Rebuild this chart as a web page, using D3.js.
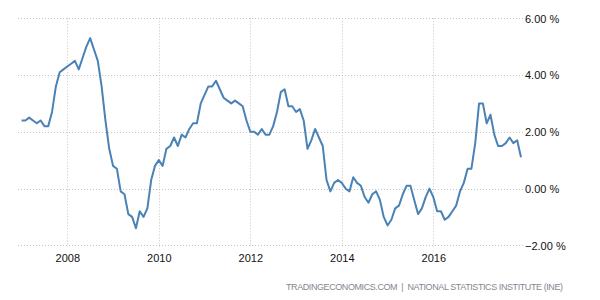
<!DOCTYPE html>
<html>
<head>
<meta charset="utf-8">
<script src="https://cdn.jsdelivr.net/npm/d3@7"></script>
<style>
  html, body { margin: 0; padding: 0; background: #fff; }
  svg { display: block; }
  text { font-family: "Liberation Sans", Arial, sans-serif; }
</style>
</head>
<body>
<svg id="chart" width="600" height="300"></svg>
<script>
// Monthly inflation rate (%), Jan 2007 .. Dec 2017
const startYear = 2007;
const values = [
  2.4, 2.4, 2.5, 2.4, 2.3, 2.4, 2.2, 2.2, 2.7, 3.6, 4.1, 4.2,   // 2007
  4.3, 4.4, 4.5, 4.2, 4.6, 5.0, 5.3, 4.9, 4.5, 3.6, 2.4, 1.4,   // 2008
  0.8, 0.7, -0.1, -0.2, -0.9, -1.0, -1.4, -0.8, -1.0, -0.7, 0.3, 0.8, // 2009
  1.0, 0.8, 1.4, 1.5, 1.8, 1.5, 1.9, 1.8, 2.1, 2.3, 2.3, 3.0,   // 2010
  3.3, 3.6, 3.6, 3.8, 3.5, 3.2, 3.1, 3.0, 3.1, 3.0, 2.9, 2.4,   // 2011
  2.0, 2.0, 1.9, 2.1, 1.9, 1.9, 2.2, 2.7, 3.4, 3.5, 2.9, 2.9,   // 2012
  2.7, 2.8, 2.4, 1.4, 1.7, 2.1, 1.8, 1.5, 0.3, -0.1, 0.2, 0.3,  // 2013
  0.2, 0.0, -0.1, 0.4, 0.2, 0.1, -0.3, -0.5, -0.2, -0.1, -0.4, -1.0, // 2014
  -1.3, -1.1, -0.7, -0.6, -0.2, 0.1, 0.1, -0.4, -0.9, -0.7, -0.3, 0.0, // 2015
  -0.3, -0.8, -0.8, -1.1, -1.0, -0.8, -0.6, -0.1, 0.2, 0.7, 0.7, 1.6, // 2016
  3.0, 3.0, 2.3, 2.6, 1.9, 1.5, 1.5, 1.6, 1.8, 1.6, 1.7, 1.1    // 2017
];
const xTickYears = [2008, 2010, 2012, 2014, 2016];
const yTickValues = [-2, 0, 2, 4, 6];
const sourceText = "TRADINGECONOMICS.COM  |  NATIONAL STATISTICS INSTITUTE (INE)";

const data = values.map((v, i) => ({ t: startYear + i / 12, v }));

const svg = d3.select("#chart");
const plot = { left: 18, right: 523, top: 18.3, bottom: 245.3 };

// x: year fraction -> px (2008 at 67.3, 45.75 px per year)
const x = d3.scaleLinear()
  .domain([2008 + (plot.left - 67.3) / 45.75, 2008 + (plot.right - 67.3) / 45.75])
  .range([plot.left, plot.right]);
const y = d3.scaleLinear().domain([-2, 6]).range([plot.bottom, plot.top]);

// horizontal grid
svg.append("g")
  .selectAll("line").data(yTickValues).join("line")
  .attr("x1", plot.left).attr("x2", plot.right)
  .attr("y1", d => Math.round(y(d)) + 0.5).attr("y2", d => Math.round(y(d)) + 0.5)
  .attr("stroke", "#c4c4c4").attr("stroke-width", 1).attr("stroke-dasharray", "1,2");

// vertical grid
svg.append("g")
  .selectAll("line").data(xTickYears).join("line")
  .attr("x1", d => Math.round(x(d)) + 0.5).attr("x2", d => Math.round(x(d)) + 0.5)
  .attr("y1", plot.top).attr("y2", plot.bottom + 1.5)
  .attr("stroke", "#c4c4c4").attr("stroke-width", 1).attr("stroke-dasharray", "1,2");

// x axis labels
const xAxis = d3.axisBottom(x).tickValues(xTickYears).tickFormat(d3.format("d")).tickSize(0).tickPadding(0);
const gx = svg.append("g").attr("transform", `translate(0,${plot.bottom})`).call(xAxis);
gx.select(".domain").remove();
gx.selectAll("text").attr("font-size", 11).attr("fill", "#111")
  .attr("font-family", "'Liberation Sans', Arial, sans-serif")
  .attr("dy", null).attr("y", 16.5);

// y axis labels (right)
const yAxis = d3.axisRight(y).tickValues(yTickValues).tickFormat(d => d3.format(".2f")(d) + " %").tickSize(0).tickPadding(0);
const gy = svg.append("g").attr("transform", `translate(525,0)`).call(yAxis);
gy.select(".domain").remove();
gy.selectAll("text").attr("font-size", 11).attr("fill", "#111")
  .attr("font-family", "'Liberation Sans', Arial, sans-serif")
  .attr("x", 0).attr("dy", "0.35em");

// line
const line = d3.line().x(d => x(d.t)).y(d => y(d.v));
svg.append("path").datum(data)
  .attr("d", line)
  .attr("fill", "none")
  .attr("stroke", "#4a82b5")
  .attr("stroke-width", 2)
  .attr("stroke-linejoin", "round");

// source
svg.append("text")
  .attr("x", 286).attr("y", 289.5)
  .attr("font-size", 9)
  .attr("fill", "#8a8490")
  .attr("textLength", 277)
  .attr("lengthAdjust", "spacing")
  .style("white-space", "pre")
  .text(sourceText);
</script>
</body>
</html>
